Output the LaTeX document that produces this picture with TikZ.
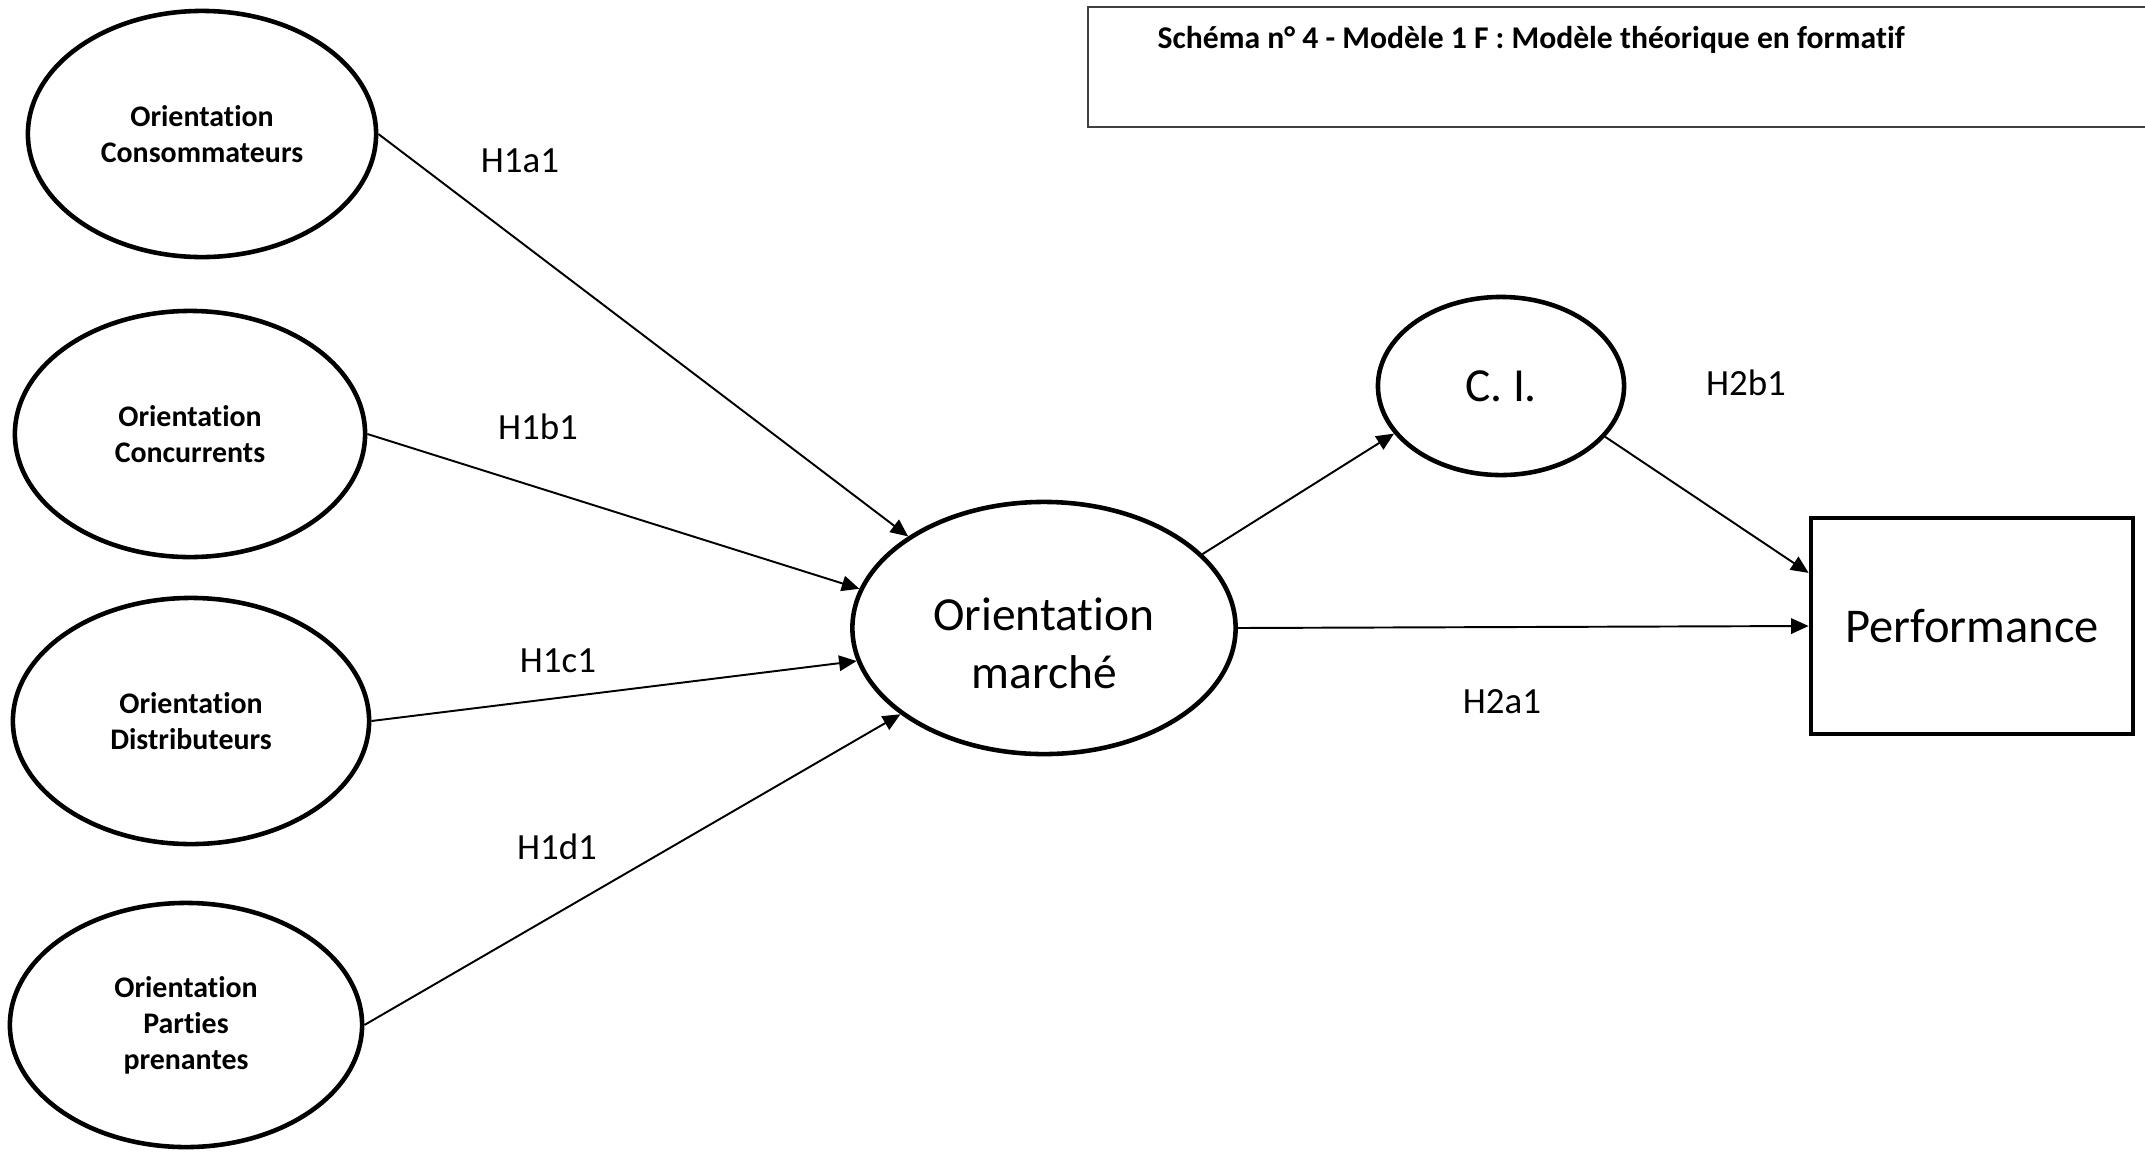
\documentclass[tikz,border=0pt]{standalone}
\usepackage{fontspec}
\setmainfont[Ligatures=NoCommon]{Carlito}
\usetikzlibrary{arrows.meta,shapes.geometric}

\begin{document}
\begin{tikzpicture}[x=0.01cm,y=-0.01cm,
  dim/.style={draw,ellipse,line width=1.3pt,inner sep=0pt,align=center,
    font=\bfseries\fontsize{8.5}{10.2}\selectfont},
  fleche/.style={-{Triangle[length=5pt,width=4.4pt]},line width=0.55pt},
  hyp/.style={font=\fontsize{10.5}{12.6}\selectfont}]
  \useasboundingbox (0,0) rectangle (2145,1151);
  % titre
  \draw[line width=0.6pt,black!75] (1088,7) rectangle (2170,127);
  \node[anchor=west,inner sep=0pt,font=\bfseries\fontsize{9}{11}\selectfont] (titre) at (1157,40) {Schéma n° 4 - Modèle 1 F : Modèle théorique en formatif};
  % dimensions
  \node[dim,minimum width=3.48cm,minimum height=2.46cm] (cons) at (202,134) {Orientation\\Consommateurs};
  \node[dim,minimum width=3.50cm,minimum height=2.46cm] (conc) at (190,434) {Orientation\\Concurrents};
  \node[dim,minimum width=3.56cm,minimum height=2.46cm] (dist) at (191,721) {Orientation\\Distributeurs};
  \node[dim,minimum width=3.52cm,minimum height=2.44cm] (part) at (186,1025) {Orientation\\Parties\\prenantes};
  \node[dim,font=\fontsize{13.5}{16.4}\selectfont,minimum width=3.83cm,minimum height=2.52cm] (om) at (1044,628) {\rule{0pt}{18pt}Orientation\\marché};
  \node[dim,font=\fontsize{13.5}{16}\selectfont,minimum width=2.46cm,minimum height=1.78cm] (ci) at (1501,386) {C. I.};
  \node[draw,line width=1.3pt,minimum width=3.22cm,minimum height=2.16cm,font=\fontsize{13.8}{17}\selectfont] (perf) at (1972,626) {Performance};
  % liens
  \draw[fleche] (cons.east) -- (om.146);
  \draw[fleche] (conc.east) -- (om.168);
  \draw[fleche] (dist.east) -- (om.190);
  \draw[fleche] (part.east) -- (om.211);
  \draw[fleche] (om.25) -- (ci.204);
  \draw[fleche] (om.east) -- (perf.west);
  \draw[fleche] (ci.-26) -- (perf.162);
  % hypotheses
  \node[hyp] (h1a) at (520,161) {H1a1};
  \node[hyp] (h1b) at (538,427) {H1b1};
  \node[hyp] (h1c) at (558,661) {H1c1};
  \node[hyp] (h1d) at (557,847) {H1d1};
  \node[hyp] (h2b) at (1746,383) {H2b1};
  \node[hyp] (h2a) at (1502,702) {H2a1};
\end{tikzpicture}
\end{document}
